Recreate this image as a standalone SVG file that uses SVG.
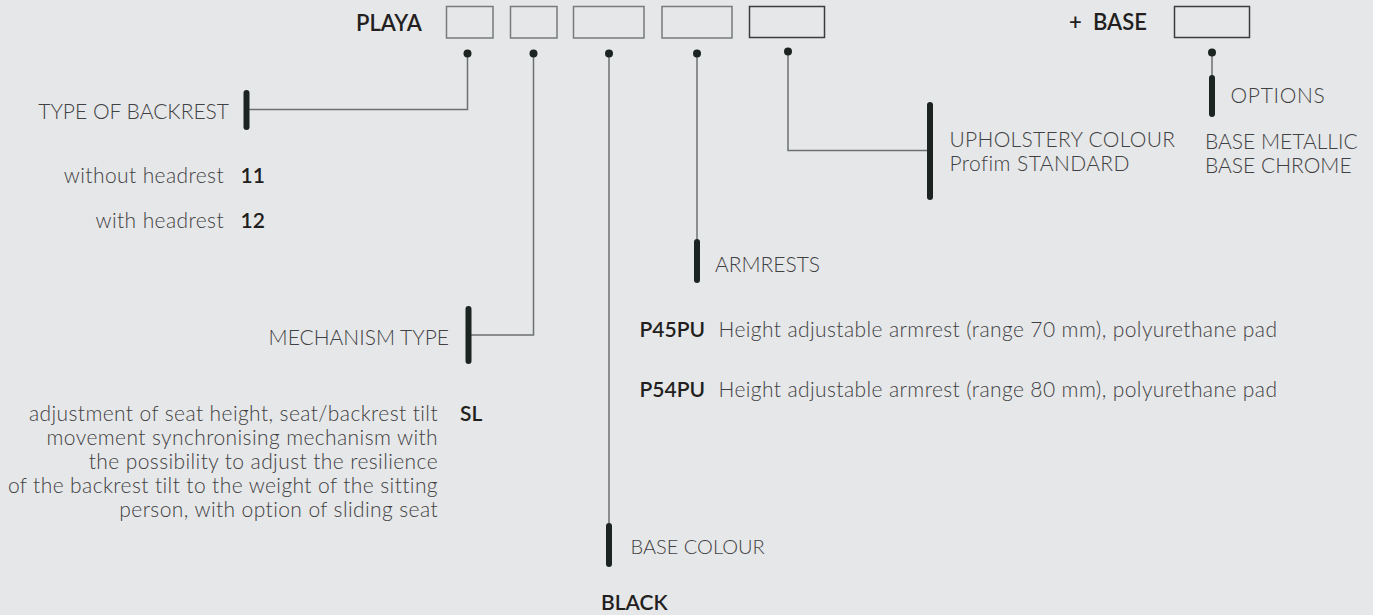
<svg xmlns="http://www.w3.org/2000/svg" width="1373" height="615" viewBox="0 0 1373 615">
<style>
.bg{fill:#e6e7e9}
.box{fill:none;stroke:#777b7b;stroke-width:1.5}
.boxd{fill:none;stroke:#3a3d3d;stroke-width:1.5}
.ln{fill:none;stroke:#6b7070;stroke-width:1.5}
.bar{stroke:#1c2422;stroke-width:6;stroke-linecap:round}
.dot{fill:#1c2422}
.t{font-family:Lato,"Open Sans",sans-serif;font-weight:300;font-size:21px;fill:#3f4142}
.l{letter-spacing:0.4px}
.b{font-family:Lato,"Open Sans",sans-serif;font-weight:600;font-size:21px;fill:#231f20}
.h{font-family:Lato,"Open Sans",sans-serif;font-weight:600;font-size:22px;fill:#231f20}
.e{text-anchor:end}
</style>
<rect class="bg" x="0" y="0" width="1373" height="615"/>
<g id="header">
<text class="h" x="356" y="31">PLAYA</text>
<rect class="box" x="446.5" y="6.5" width="46.5" height="31.5"/>
<rect class="box" x="510.5" y="6.5" width="46.5" height="31.5"/>
<rect class="box" x="573.5" y="6.5" width="70.5" height="31.5"/>
<rect class="box" x="662" y="6.5" width="70" height="31.5"/>
<rect class="boxd" x="749.5" y="6.5" width="75" height="31"/>
<text class="h" x="1069" y="30">+</text>
<text class="h" x="1093" y="30">BASE</text>
<rect class="boxd" x="1174.5" y="6.5" width="75" height="31"/>
</g>
<g id="connectors">
<path class="ln" d="M467.5,53.5 V109.5 H246.5"/>
<path class="ln" d="M533.5,53.5 V335 H468.5"/>
<path class="ln" d="M609,53.5 V525"/>
<path class="ln" d="M697,53.5 V241"/>
<path class="ln" d="M788,51.5 V150.5 H930"/>
<path class="ln" d="M1212,52.5 V77"/>
<circle class="dot" cx="467.5" cy="53.5" r="4"/>
<circle class="dot" cx="533.5" cy="53.5" r="4"/>
<circle class="dot" cx="609" cy="53.5" r="4"/>
<circle class="dot" cx="697" cy="53.5" r="4"/>
<circle class="dot" cx="788" cy="51.5" r="4"/>
<circle class="dot" cx="1212" cy="52.5" r="4"/>
</g>
<g id="backrest">
<line class="bar" x1="246.5" y1="93" x2="246.5" y2="127"/>
<text class="t e" x="229" y="119">TYPE OF BACKREST</text>
<text class="t e l" x="224" y="183">without headrest</text>
<text class="b" x="240.5" y="183">11</text>
<text class="t e l" x="224" y="228">with headrest</text>
<text class="b" x="240.5" y="228">12</text>
</g>
<g id="mechanism">
<line class="bar" x1="468.5" y1="309" x2="468.5" y2="361"/>
<text class="t e" x="449" y="345">MECHANISM TYPE</text>
<text class="t e l" x="438" y="421">adjustment of seat height, seat/backrest tilt</text>
<text class="t e l" x="438" y="444.5">movement synchronising mechanism with</text>
<text class="t e l" x="438" y="469">the possibility to adjust the resilience</text>
<text class="t e l" x="438" y="493">of the backrest tilt to the weight of the sitting</text>
<text class="t e l" x="438" y="517">person, with option of sliding seat</text>
<text class="b" x="460" y="421">SL</text>
</g>
<g id="basecolour">
<line class="bar" x1="609" y1="526" x2="609" y2="564"/>
<text class="t" x="630.5" y="554" style="font-size:20px">BASE COLOUR</text>
<text class="b" x="601" y="610">BLACK</text>
</g>
<g id="armrests">
<line class="bar" x1="697" y1="242" x2="697" y2="280"/>
<text class="t" x="715" y="272">ARMRESTS</text>
<text class="b" x="639.5" y="337">P45PU</text>
<text class="t l" x="718.5" y="337">Height adjustable armrest (range 70 mm), polyurethane pad</text>
<text class="b" x="639.5" y="397">P54PU</text>
<text class="t l" x="718.5" y="397">Height adjustable armrest (range 80 mm), polyurethane pad</text>
</g>
<g id="upholstery">
<line class="bar" x1="930" y1="105" x2="930" y2="197"/>
<text class="t" x="949.5" y="146.5" style="letter-spacing:0.3px">UPHOLSTERY COLOUR</text>
<text class="t l" x="949.5" y="170.5">Profim STANDARD</text>
</g>
<g id="options">
<line class="bar" x1="1212" y1="78" x2="1212" y2="114"/>
<text class="t" x="1230.5" y="103" style="letter-spacing:0.7px">OPTIONS</text>
<text class="t" x="1205" y="149">BASE METALLIC</text>
<text class="t" x="1205" y="173">BASE CHROME</text>
</g>
</svg>
